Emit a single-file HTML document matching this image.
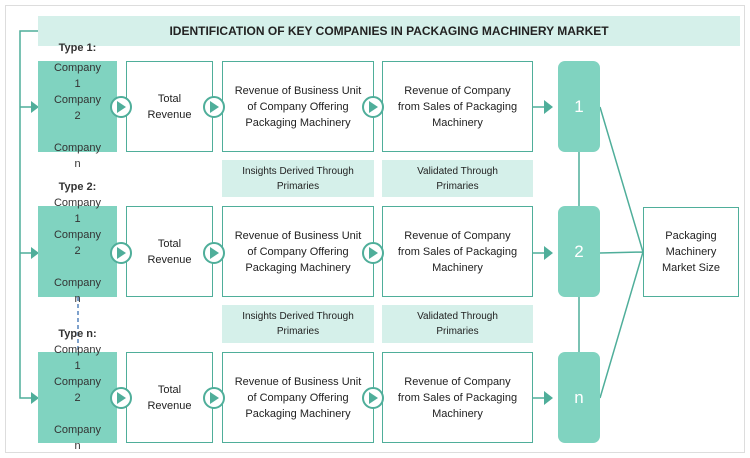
<!DOCTYPE html>
<html><head><style>
body{margin:0;width:750px;height:458px;background:#fff;font-family:"Liberation Sans",sans-serif;position:relative;overflow:hidden}
.a{position:absolute;box-sizing:border-box}
.box{border:1.5px solid #4fae9a;background:#fff;display:flex;align-items:center;justify-content:center;text-align:center;font-size:11px;line-height:16px;color:#222}
.lt{background:#d5f0ea;display:flex;align-items:center;justify-content:center;text-align:center;font-size:10px;line-height:15px;color:#222}
.comp{background:#80d3c0;font-size:11px;line-height:16px;text-align:center;color:#333}
.num{background:#80d3c0;border-radius:7px;color:#fff;font-size:17px;display:flex;align-items:center;justify-content:center}
.typ{font-weight:bold;font-size:11px;color:#333;text-align:center}
</style></head><body>
<div class="a" style="left:5px;top:5px;width:740px;height:448px;border:1.5px solid #ddd"></div>
<div class="a lt" style="left:38px;top:16px;width:702px;height:30px;font-weight:bold;font-size:12px;color:#222">IDENTIFICATION OF KEY COMPANIES IN PACKAGING MACHINERY MARKET</div>

<svg class="a" style="left:0;top:0" width="750" height="458">
<g stroke="#4fae9a" stroke-width="1.5" fill="none">
<path d="M38 31H20V398H32"/><path d="M20 107H32M20 253H32"/>
<path d="M533 107H545M533 253H545M533 398H545"/>
<path d="M579 152V206M579 297V352"/>
<path d="M600 107L643 252M600 253L643 252M600 398L643 252"/>
</g>
<path d="M78 297V358" stroke="#3a6fb0" stroke-width="1.3" stroke-dasharray="4,3"/>
<g fill="#4fae9a">
<path d="M31 101L39 107L31 113Z"/><path d="M31 247L39 253L31 259Z"/><path d="M31 392L39 398L31 404Z"/>
<path d="M544 100L553 107L544 114Z"/><path d="M544 246L553 253L544 260Z"/><path d="M544 391L553 398L544 405Z"/>
</g>
</svg>

<!-- rows -->
<div class="a typ" style="left:38px;top:42px;width:79px">Type 1:</div>
<div class="a comp" style="left:38px;top:61px;width:79px;height:91px"></div>
<div class="a comp" style="left:38px;top:60px;width:79px;background:none">Company<br>1<br>Company<br>2<br>&nbsp;<br>Company<br>n</div>

<div class="a typ" style="left:38px;top:181px;width:79px">Type 2:</div>
<div class="a comp" style="left:38px;top:206px;width:79px;height:91px"></div>
<div class="a comp" style="left:38px;top:195px;width:79px;background:none">Company<br>1<br>Company<br>2<br>&nbsp;<br>Company<br>n</div>

<div class="a typ" style="left:38px;top:328px;width:79px">Type n:</div>
<div class="a comp" style="left:38px;top:352px;width:79px;height:91px"></div>
<div class="a comp" style="left:38px;top:342px;width:79px;background:none">Company<br>1<br>Company<br>2<br>&nbsp;<br>Company<br>n</div>

<div class="a box" style="left:126px;top:61px;width:87px;height:91px">Total<br>Revenue</div>
<div class="a box" style="left:222px;top:61px;width:152px;height:91px">Revenue of Business Unit<br>of Company Offering<br>Packaging Machinery</div>
<div class="a box" style="left:382px;top:61px;width:151px;height:91px">Revenue of Company<br>from Sales of Packaging<br>Machinery</div>

<div class="a box" style="left:126px;top:206px;width:87px;height:91px">Total<br>Revenue</div>
<div class="a box" style="left:222px;top:206px;width:152px;height:91px">Revenue of Business Unit<br>of Company Offering<br>Packaging Machinery</div>
<div class="a box" style="left:382px;top:206px;width:151px;height:91px">Revenue of Company<br>from Sales of Packaging<br>Machinery</div>

<div class="a box" style="left:126px;top:352px;width:87px;height:91px">Total<br>Revenue</div>
<div class="a box" style="left:222px;top:352px;width:152px;height:91px">Revenue of Business Unit<br>of Company Offering<br>Packaging Machinery</div>
<div class="a box" style="left:382px;top:352px;width:151px;height:91px">Revenue of Company<br>from Sales of Packaging<br>Machinery</div>

<div class="a lt" style="left:222px;top:160px;width:152px;height:37px">Insights Derived Through<br>Primaries</div>
<div class="a lt" style="left:382px;top:160px;width:151px;height:37px">Validated Through<br>Primaries</div>
<div class="a lt" style="left:222px;top:305px;width:152px;height:38px">Insights Derived Through<br>Primaries</div>
<div class="a lt" style="left:382px;top:305px;width:151px;height:38px">Validated Through<br>Primaries</div>

<div class="a num" style="left:558px;top:61px;width:42px;height:91px">1</div>
<div class="a num" style="left:558px;top:206px;width:42px;height:91px">2</div>
<div class="a num" style="left:558px;top:352px;width:42px;height:91px">n</div>

<div class="a box" style="left:643px;top:207px;width:96px;height:90px">Packaging<br>Machinery<br>Market Size</div>

<svg class="a" style="left:0;top:0" width="750" height="458">
<g id="c">
<circle cx="121" cy="107" r="10" fill="#fff" stroke="#4fae9a" stroke-width="2"/><path d="M117 101L126 107L117 113Z" fill="#4fae9a"/>
<circle cx="214" cy="107" r="10" fill="#fff" stroke="#4fae9a" stroke-width="2"/><path d="M210 101L219 107L210 113Z" fill="#4fae9a"/>
<circle cx="373" cy="107" r="10" fill="#fff" stroke="#4fae9a" stroke-width="2"/><path d="M369 101L378 107L369 113Z" fill="#4fae9a"/>
</g>
<use href="#c" y="146"/><use href="#c" y="291"/>
</svg>
</body></html>
